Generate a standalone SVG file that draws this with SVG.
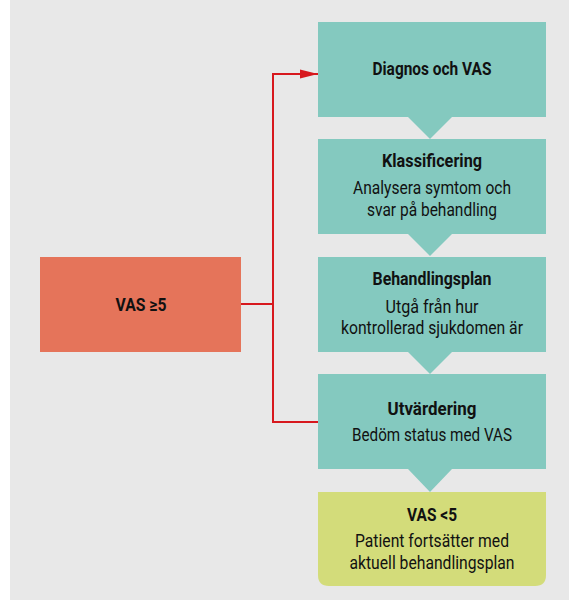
<svg xmlns="http://www.w3.org/2000/svg" width="569" height="600" viewBox="0 0 569 600">
<defs>
<style>
.bg{fill:#e8e8e8}
.teal{fill:#84c9bf}
.orange{fill:#e5745a}
.lime{fill:#d3dc7a}
.t{font-family:Roboto,"Liberation Sans",sans-serif;font-size:17.5px;fill:#111;text-anchor:middle}
.b{font-weight:bold;font-size:18.5px}
.conn{stroke:#d7181d;stroke-width:2;fill:none}
</style>
<marker id="arr" markerWidth="18" markerHeight="10" refX="18" refY="5" orient="auto" markerUnits="userSpaceOnUse">
<polygon points="0,0.5 18,5 0,9.5" fill="#d7181d"/>
</marker>
</defs>
<rect x="0" y="0" width="569" height="600" fill="#ffffff"/>
<rect class="bg" x="10" y="0" width="559" height="600"/>
<g id="connectors">
<polyline class="conn" points="241,304 273,304"/>
<polyline class="conn" points="318,422 273,422 273,74 318,74" marker-end="url(#arr)"/>
</g>
<g id="vas-high">
<rect class="orange" x="40" y="257" width="201" height="95"/>
<text class="t b" x="141" y="311" textLength="51" lengthAdjust="spacingAndGlyphs">VAS ≥5</text>
</g>
<g id="diagnos">
<path class="teal" d="M318,22H546V117H452L430,139L408,117H318Z"/>
<text class="t b" x="432" y="75" textLength="119" lengthAdjust="spacingAndGlyphs">Diagnos och VAS</text>
</g>
<g id="klassificering">
<path class="teal" d="M318,139H546V234H452L430,256L408,234H318Z"/>
<text class="t b" x="432" y="167" textLength="100" lengthAdjust="spacingAndGlyphs">Klassificering</text>
<text class="t" x="432" y="194" textLength="158" lengthAdjust="spacingAndGlyphs">Analysera symtom och</text>
<text class="t" x="432" y="216" textLength="130" lengthAdjust="spacingAndGlyphs">svar på behandling</text>
</g>
<g id="behandlingsplan">
<path class="teal" d="M318,257H546V352H452L430,374L408,352H318Z"/>
<text class="t b" x="432" y="285" textLength="119" lengthAdjust="spacingAndGlyphs">Behandlingsplan</text>
<text class="t" x="432" y="313" textLength="93" lengthAdjust="spacingAndGlyphs">Utgå från hur</text>
<text class="t" x="432" y="334" textLength="182" lengthAdjust="spacingAndGlyphs">kontrollerad sjukdomen är</text>
</g>
<g id="utvardering">
<path class="teal" d="M318,374H546V469H452L430,492L408,469H318Z"/>
<text class="t b" x="432" y="415" textLength="89" lengthAdjust="spacingAndGlyphs">Utvärdering</text>
<text class="t" x="432" y="441" textLength="160" lengthAdjust="spacingAndGlyphs">Bedöm status med VAS</text>
</g>
<g id="vas-low">
<path class="lime" d="M318,492H546V575Q546,586 535,586H329Q318,586 318,575Z"/>
<text class="t b" x="432" y="521" textLength="50" lengthAdjust="spacingAndGlyphs">VAS &lt;5</text>
<text class="t" x="432" y="547" textLength="154" lengthAdjust="spacingAndGlyphs">Patient fortsätter med</text>
<text class="t" x="432" y="569" textLength="165" lengthAdjust="spacingAndGlyphs">aktuell behandlingsplan</text>
</g>
</svg>
